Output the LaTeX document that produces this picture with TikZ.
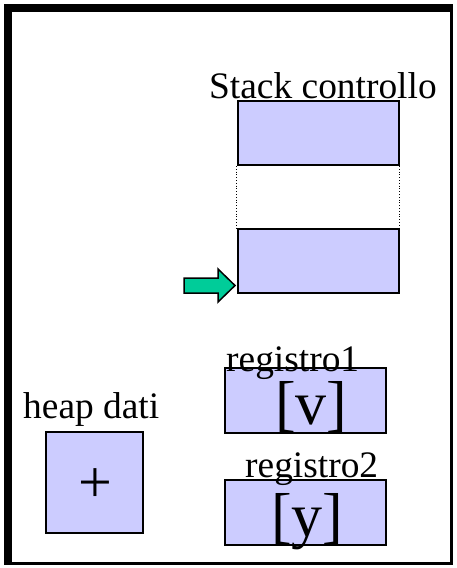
\documentclass[tikz,border=0pt]{standalone}
\usepackage{fontspec}
\setmainfont{Liberation Serif}
\definecolor{cellfill}{HTML}{CCCCFF}
\definecolor{ptrgreen}{HTML}{00CC99}
\begin{document}
\begin{tikzpicture}[x=1pt,y=-1pt,
  cell/.style={draw=black,line width=2pt,fill=cellfill},
  lbl/.style={inner sep=0pt,anchor=base west,font=\fontsize{37.4}{40}\selectfont},
  big/.style={inner sep=0pt,anchor=base west,font=\fontsize{62}{66}\selectfont}]
\useasboundingbox (0,0) rectangle (456,568);
% outer frame: heavy top/left edges, lighter right/bottom edges
\fill[white] (0,0) rectangle (456,568);
\fill[black] (4,4) rectangle (453,565);
\fill[white] (12,12) rectangle (450,562);

% control stack
\node[lbl] (stacklbl) at (209,98) {Stack controllo};
\node[cell,minimum width=161pt,minimum height=64pt,inner sep=0pt] (top) at (318.2,133) {};
\node[cell,minimum width=161pt,minimum height=64pt,inner sep=0pt] (bot) at (318.2,261) {};
\draw[dotted,line width=0.8pt] (top.south west) -- (bot.north west);
\draw[dotted,line width=0.8pt] (top.south east) -- (bot.north east);

% pointer to the current frame
\coordinate (tip) at (235,285.5);
\draw[fill=ptrgreen,line width=1.5pt,line join=miter]
  (184,278) -- (218,278) -- (218,269) -- (tip) -- (218,302) -- (218,293) -- (184,293) -- cycle;

% heap
\node[lbl] (heaplbl) at (23,418) {heap dati};
\node[cell,minimum width=97pt,minimum height=101pt,inner sep=0pt] (heap) at (94.2,482.5) {};
\node[inner sep=0pt,font=\fontsize{60}{62}\selectfont] (plus) at (95,486) {+};

% registers
\node[cell,minimum width=161pt,minimum height=65pt,inner sep=0pt] (r1) at (305.5,400.5) {};
\node[lbl] (r1lbl) at (226,371) {registro1};
\node[big] (v) at (275,424) {[v]};

\node[cell,minimum width=161pt,minimum height=65pt,inner sep=0pt] (r2) at (305.5,512.5) {};
\node[lbl] (r2lbl) at (245,477) {registro2};
\node[big] (y) at (271,536) {[y]};
\end{tikzpicture}
\end{document}
